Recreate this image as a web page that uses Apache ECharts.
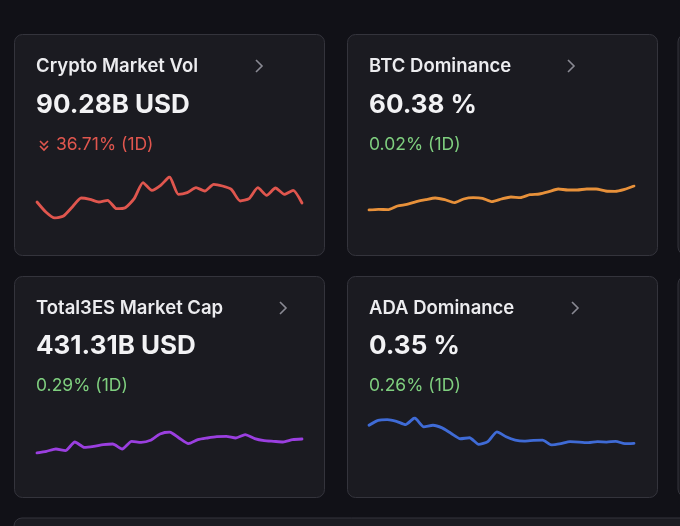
<!DOCTYPE html>
<html>
<head>
<meta charset="utf-8">
<script src="https://cdn.jsdelivr.net/npm/echarts@6/dist/echarts.min.js"></script>
<style>
  html, body { margin: 0; padding: 0; background: #111117; }
  #main { width: 680px; height: 526px; }
</style>
</head>
<body>
<div id="main"></div>
<script>
// sparkline values (relative units)
var volValues = [50, 20, 2, 8, 35, 62, 58, 50, 55, 30, 33, 60, 108, 85, 100, 125, 73, 78, 93, 83, 103, 98, 88, 53, 60, 93, 70, 92, 73, 85, 47];
var btcValues = [5, 7, 6, 17, 22, 30, 36, 41, 36, 27, 38, 42, 40, 30, 38, 44, 42, 51, 53, 60, 68, 65, 65, 68, 68, 62, 61, 67, 77];
var total3Values = [5, 10, 17, 12, 38, 22, 25, 30, 32, 17, 40, 37, 43, 62, 68, 50, 33, 45, 50, 54, 55, 50, 60, 48, 42, 40, 38, 45, 47];
var adaValues = [68, 83, 85, 80, 70, 90, 63, 68, 60, 43, 27, 30, 10, 18, 48, 33, 23, 20, 22, 23, 8, 12, 18, 17, 15, 18, 17, 19, 12, 13];

var cardTitles = ['Crypto Market Vol', 'BTC Dominance', 'Total3ES Market Cap', 'ADA Dominance'];
var cardValues = ['90.28B USD', '60.38 %', '431.31B USD', '0.35 %'];
var cardChanges = ['36.71% (1D)', '0.02% (1D)', '0.29% (1D)', '0.26% (1D)'];

var seriesList = [volValues, btcValues, total3Values, adaValues];
var lineColors = ['#e0564e', '#e8913a', '#9b3fe0', '#3f6bd6'];
var changeColors = ['#e0564e', '#7fcf7f', '#7fcf7f', '#7fcf7f'];

var cards = [
    {x: 14, y: 34, textY: [66, 105, 145], chevX: 256, grid: {left: 37, top: 177, width: 265, height: 41}},
    {x: 347, y: 34, textY: [66, 105, 145], chevX: 568, grid: {left: 369, top: 186, width: 265, height: 24}},
    {x: 14, y: 276, textY: [308, 346, 386], chevX: 280, grid: {left: 37, top: 432, width: 265, height: 21}},
    {x: 347, y: 276, textY: [308, 346, 386], chevX: 572, grid: {left: 369, top: 418, width: 265, height: 27}}
];

var font = 'Inter, "Noto Sans", sans-serif';
var graphics = [];

// extra cards peeking at the edges
graphics.push({type: 'rect', shape: {x: 678, y: 34, width: 311, height: 221, r: 8}, style: {fill: '#1b1b21', stroke: '#34343c', lineWidth: 1}, z: 0});
graphics.push({type: 'rect', shape: {x: 678, y: 276, width: 311, height: 221, r: 8}, style: {fill: '#1b1b21', stroke: '#34343c', lineWidth: 1}, z: 0});
graphics.push({type: 'rect', shape: {x: 14, y: 518, width: 700, height: 60, r: 8}, style: {fill: '#1b1b21', stroke: '#34343c', lineWidth: 1}, z: 0});

cards.forEach(function (c, i) {
    var tx = c.x + 22;
    graphics.push({type: 'rect', shape: {x: c.x + 0.5, y: c.y + 0.5, width: 310, height: 221, r: 8},
        style: {fill: '#1b1b21', stroke: '#34343c', lineWidth: 1}, z: 0});
    graphics.push({type: 'text', x: tx, y: c.textY[0], z: 2,
        style: {text: cardTitles[i], fill: '#ececef', font: '600 18.5px ' + font, verticalAlign: 'middle'}});
    graphics.push({type: 'text', x: tx, y: c.textY[1], z: 2,
        style: {text: cardValues[i], fill: '#f2f2f4', font: '700 26px ' + font, verticalAlign: 'middle'}});
    var cx = tx;
    if (i === 0) {
        graphics.push({type: 'polyline', z: 2, shape: {points: [[tx + 4, c.textY[2] - 4], [tx + 8, c.textY[2]], [tx + 12, c.textY[2] - 4]]},
            style: {stroke: changeColors[i], lineWidth: 1.6, fill: null}});
        graphics.push({type: 'polyline', z: 2, shape: {points: [[tx + 4, c.textY[2] + 1], [tx + 8, c.textY[2] + 5], [tx + 12, c.textY[2] + 1]]},
            style: {stroke: changeColors[i], lineWidth: 1.6, fill: null}});
        cx = tx + 20;
    }
    graphics.push({type: 'text', x: cx, y: c.textY[2], z: 2,
        style: {text: cardChanges[i], fill: changeColors[i], font: '400 17.5px ' + font, verticalAlign: 'middle'}});
    graphics.push({type: 'polyline', z: 2,
        shape: {points: [[c.chevX, c.textY[0] - 6], [c.chevX + 6, c.textY[0]], [c.chevX, c.textY[0] + 6]]},
        style: {stroke: '#8a8a93', lineWidth: 1.6, fill: null}});
});

var grids = [], xAxes = [], yAxes = [], series = [];
seriesList.forEach(function (vals, i) {
    grids.push(cards[i].grid);
    xAxes.push({type: 'category', gridIndex: i, show: false, boundaryGap: false,
        data: vals.map(function (v, k) { return k; })});
    yAxes.push({type: 'value', gridIndex: i, show: false, scale: true,
        min: Math.min.apply(null, vals), max: Math.max.apply(null, vals)});
    series.push({
        type: 'line', xAxisIndex: i, yAxisIndex: i, data: vals,
        showSymbol: false, smooth: 0.2, z: 3,
        lineStyle: {color: lineColors[i], width: 2.8, cap: 'round', join: 'round'},
        itemStyle: {color: lineColors[i]}
    });
});

var chart = echarts.init(document.getElementById('main'));
chart.setOption({
    backgroundColor: '#111117',
    animation: false,
    graphic: graphics,
    grid: grids,
    xAxis: xAxes,
    yAxis: yAxes,
    series: series
});
</script>
</body>
</html>
